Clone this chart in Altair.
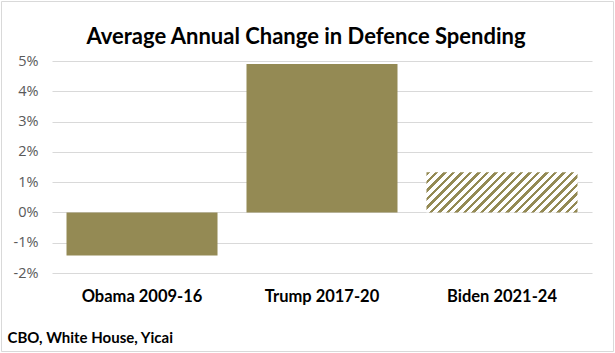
import altair as alt
import pandas as pd

# ---- data ----
categories = ["Obama 2009-16", "Trump 2017-20", "Biden 2021-24"]
changes = [-1.42, 4.9, 1.33]          # average annual change, %
hatched = [False, False, True]        # projected (hatched) bar
y_ticks = [-2, -1, 0, 1, 2, 3, 4, 5]
title_text = "Average Annual Change in Defence Spending"
source_text = "CBO, White House, Yicai"

# ---- style / layout ----
OLIVE = "#948A54"
GRID = "#d9d9d9"
FONT = "Lato"
AXFONT = "Open Sans"
PLOT_W, PLOT_H = 540, 212
Y_MIN, Y_MAX = -2, 5
P_IN, P_OUT = 0.161, 0.0806
PAD_L, PAD_T = 52, 61
TOTAL_W, TOTAL_H = 615, 353

df = pd.DataFrame({"period": categories, "change": changes, "hatched": hatched})

# hatch fill built as a hard-stop linear gradient (45 degree stripes)
step = PLOT_W / (len(categories) - P_IN + 2 * P_OUT)
bar_w = step * (1 - P_IN)
px_per_unit = PLOT_H / (Y_MAX - Y_MIN)
hv = [v for v, h in zip(changes, hatched) if h][0]
bar_h = abs(hv) * px_per_unit
span = bar_w + bar_h
norm = bar_w ** 2 + bar_h ** 2
gx2 = bar_w * span / norm
gy2 = bar_h * span / norm
pitch = 8.5
frac = 0.42
stops = []
k = 0
while k * pitch < span:
    a = min(1.0, k * pitch / span)
    b = min(1.0, (k + frac) * pitch / span)
    c = min(1.0, (k + 1) * pitch / span)
    stops += [
        {"offset": a, "color": OLIVE},
        {"offset": b, "color": OLIVE},
        {"offset": b, "color": "white"},
        {"offset": c, "color": "white"},
    ]
    k += 1
hatch = {"gradient": "linear", "x1": 0, "y1": 0, "x2": gx2, "y2": gy2, "stops": stops}

x_enc = alt.X(
    "period:N",
    sort=categories,
    scale=alt.Scale(paddingInner=P_IN, paddingOuter=P_OUT),
    axis=alt.Axis(
        title=source_text,
        titleFont=FONT, titleFontSize=15, titleFontWeight="bold", titleColor="black",
        titleAlign="left", titleBaseline="alphabetic",
        titleX=7 - PAD_L, titleY=69,
        labelFont=FONT, labelFontSize=16.5, labelFontWeight="bold", labelColor="black",
        labelPadding=15, labelAngle=0,
        ticks=False, domain=False, grid=False,
    ),
)
y_enc = alt.Y(
    "change:Q",
    scale=alt.Scale(domain=[Y_MIN, Y_MAX], nice=False, zero=True),
    axis=alt.Axis(
        title=None, values=y_ticks, labelExpr="datum.value + '%'",
        labelFont=AXFONT, labelFontSize=14.5, labelColor="#595959", labelPadding=14,
        ticks=False, domain=False, grid=True, gridColor=GRID, gridWidth=1,
    ),
)

base = alt.Chart(df)
solid = base.transform_filter("!datum.hatched").mark_bar(color=OLIVE).encode(x=x_enc, y=y_enc)
striped = base.transform_filter("datum.hatched").mark_bar(fill=hatch, strokeWidth=0).encode(x=x_enc, y=y_enc)

frame = alt.Chart(pd.DataFrame({"k": [0]})).mark_rect(
    fill=None, stroke=GRID, strokeWidth=1, clip=False
).encode(
    x=alt.value(1.5 - PAD_L), x2=alt.value(TOTAL_W - 1.5 - PAD_L),
    y=alt.value(1.5 - PAD_T), y2=alt.value(TOTAL_H - 1.5 - PAD_T),
)

title = alt.Chart(pd.DataFrame({"label": [title_text]})).mark_text(
    font=FONT, fontSize=22, fontWeight="bold", color="black",
    align="center", baseline="alphabetic",
).encode(
    text="label:N",
    x=alt.value(306 - PAD_L), y=alt.value(44 - PAD_T),
)

chart = alt.layer(frame, solid, striped, title).properties(
    width=PLOT_W, height=PLOT_H,
    autosize=alt.AutoSizeParams(type="none"),
    padding={"left": PAD_L, "top": PAD_T, "right": TOTAL_W - PAD_L - PLOT_W, "bottom": TOTAL_H - PAD_T - PLOT_H},
    background="white",
).configure_view(stroke=None)

chart.save("out.html", embed_options={"renderer": "svg", "actions": False})
